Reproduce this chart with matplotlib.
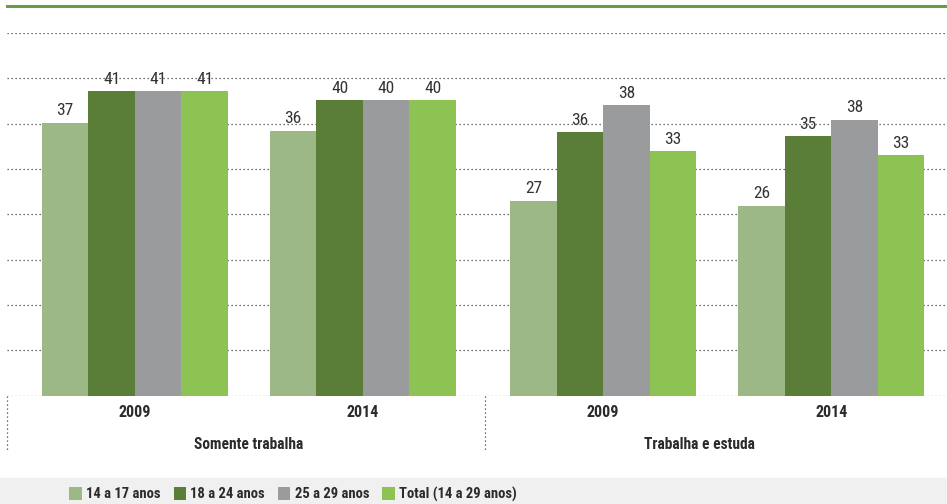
import matplotlib.pyplot as plt
import numpy as np
from matplotlib import font_manager

available = {f.name for f in font_manager.fontManager.ttflist}
family = 'DejaVu Sans'
for name in ['Liberation Sans Narrow', 'Roboto Condensed', 'DejaVu Sans Condensed']:
    if name in available:
        family = name
        break
plt.rcParams['font.family'] = [family, 'DejaVu Sans']

# data
years = ['2009', '2014', '2009', '2014']
sections = ['Somente trabalha', 'Trabalha e estuda']
series_names = ['14 a 17 anos', '18 a 24 anos', '25 a 29 anos', 'Total (14 a 29 anos)']
colors = ['#9db887', '#5a7d38', '#999b9c', '#8cc353']

age_14_17 = [37.1, 36.0, 26.5, 25.8]
age_18_24 = [41.4, 40.2, 35.8, 35.3]
age_25_29 = [41.4, 40.2, 39.5, 37.5]
total = [41.4, 40.2, 33.2, 32.7]
labels_14_17 = [37, 36, 27, 26]
labels_18_24 = [41, 40, 36, 35]
labels_25_29 = [41, 40, 38, 38]
labels_total = [41, 40, 33, 33]

series = [age_14_17, age_18_24, age_25_29, total]
labels = [labels_14_17, labels_18_24, labels_25_29, labels_total]

W, H = 947, 504
fig = plt.figure(figsize=(W / 100, H / 100), dpi=100)

# axes from pixel 7..947 horizontally, 33..395.7 vertically
ax = fig.add_axes([7 / W, 1 - 395.7 / H, 940 / W, (395.7 - 33) / H])
ymax = 49.3
ax.set_ylim(0, ymax)
ax.set_xlim(-0.561, 3.561)

for y in np.linspace(0, ymax, 9):
    ax.axhline(y, color='#444444', lw=0.9, ls=(0, (1, 2.2)), zorder=1)

group_x = np.array([0, 1, 2.053, 3.053])
bw = 0.204
for i, (vals, labs) in enumerate(zip(series, labels)):
    xs = group_x + (i - 1.5) * bw
    ax.bar(xs, vals, width=bw, color=colors[i], zorder=2, label=series_names[i])
    for x, v, lab in zip(xs, vals, labs):
        ax.text(x, v + 0.6, str(lab), ha='center', va='bottom', fontsize=12.5,
                color='#333333', zorder=3)

for s in ax.spines.values():
    s.set_visible(False)
ax.set_xticks([])
ax.set_yticks([])

# year labels and section labels
for x, yr in zip(group_x, years):
    ax.text(x, -2.35, yr, ha='center', va='center', fontsize=11.5, fontweight='bold',
            color='#2b2b2b', clip_on=False)
ax.text(0.5, -6.7, sections[0], ha='center', va='center', fontsize=11.2, fontweight='bold',
        color='#2b2b2b', clip_on=False)
ax.text(2.474, -6.7, sections[1], ha='center', va='center', fontsize=11.2, fontweight='bold',
        color='#2b2b2b', clip_on=False)

# dotted vertical separators
for x in [-0.561, 1.537]:
    ax.plot([x, x], [0, -7.65], color='#444444', lw=0.9, ls=(0, (1, 2.2)), clip_on=False)

# top green rule
fig.add_artist(plt.Line2D([7 / W, 1], [1 - 6 / H, 1 - 6 / H], color='#6c9b45', lw=2.2))

# legend band
fig.add_artist(plt.Rectangle((0, 0), 1, 26 / H, color='#eff0ef', zorder=0))
leg = fig.legend(loc='center left', bbox_to_anchor=(56 / W, 10 / H), ncol=4, frameon=False,
                 handlelength=0.85, handleheight=1.0, handletextpad=0.3, columnspacing=0.9,
                 fontsize=10.5, labelcolor='#2b2b2b')
for t in leg.get_texts():
    t.set_fontweight('bold')

fig.savefig('out.png', dpi=100)
